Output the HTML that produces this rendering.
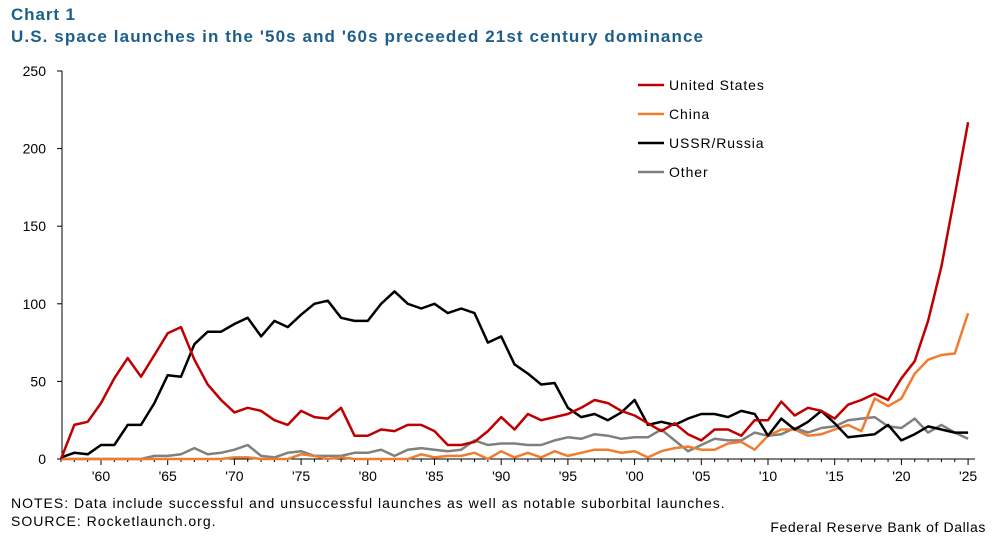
<!DOCTYPE html>
<html><head><meta charset="utf-8"><style>
body{margin:0;width:997px;height:541px;background:#fff;font-family:"Liberation Sans",sans-serif;position:relative;overflow:hidden}
.t1{position:absolute;left:11px;top:5px;font-size:17px;font-weight:bold;color:#1d5e8a;letter-spacing:0.9px}
.t2{position:absolute;left:11px;top:27px;font-size:17px;font-weight:bold;color:#1d5e8a;letter-spacing:1.1px}
.n{position:absolute;left:11px;font-size:14px;color:#000;letter-spacing:1px}
.f{position:absolute;right:11px;top:519px;font-size:14px;color:#000;letter-spacing:0.6px}
svg{position:absolute;left:0;top:0}
</style></head><body>
<div class="t1">Chart 1</div>
<div class="t2">U.S. space launches in the '50s and '60s preceeded 21st century dominance</div>
<div class="n" style="top:495px">NOTES: Data include successful and unsuccessful launches as well as notable suborbital launches.</div>
<div class="n" style="top:513px">SOURCE: Rocketlaunch.org.</div>
<div class="f">Federal Reserve Bank of Dallas</div>
<svg id="s" width="997" height="541" font-family="Liberation Sans" font-size="14"></svg>
<script>
const us=[0,22,24,36,52,65,53,67,81,85,64,48,38,30,33,31,25,22,31,27,26,33,15,15,19,18,22,22,18,9,9,11,18,27,19,29,25,27,29,33,38,36,31,28,23,18,23,16,12,19,19,15,25,25,37,28,33,31,26,35,38,42,38,52,63,89,124,170,217];
const ru=[1,4,3,9,9,22,22,36,54,53,74,82,82,87,91,79,89,85,93,100,102,91,89,89,100,108,100,97,100,94,97,94,75,79,61,55,48,49,33,27,29,25,30,38,22,24,22,26,29,29,27,31,29,15,26,19,24,31,23,14,15,16,22,12,16,21,19,17,17];
const cn=[0,0,0,0,0,0,0,0,0,0,0,0,0,1,1,0,0,0,3,2,0,1,0,0,0,0,0,3,1,2,2,4,0,5,1,4,1,5,2,4,6,6,4,5,1,5,7,8,6,6,10,11,6,15,19,19,15,16,19,22,18,39,34,39,55,64,67,68,94];
const ot=[0,0,0,0,0,0,0,2,2,3,7,3,4,6,9,2,1,4,5,2,2,2,4,4,6,2,6,7,6,5,6,12,9,10,10,9,9,12,14,13,16,15,13,14,14,19,12,5,9,13,12,12,17,15,16,20,17,20,21,25,26,27,21,20,26,17,22,17,13];
const X=y=>101+(y-1960)*13.34, Y=v=>459-v*1.552;
let h='';
h+=`<line x1="62" y1="71" x2="62" y2="459" stroke="#000"/><line x1="62" y1="459" x2="975" y2="459" stroke="#000"/>`;
for(let v=0;v<=250;v+=50){h+=`<line x1="57" x2="62" y1="${Y(v)}" y2="${Y(v)}" stroke="#000"/><text x="46" y="${Y(v)+5}" text-anchor="end">${v}</text>`}
for(let y=1957;y<=2025;y++){h+=`<line x1="${X(y)}" x2="${X(y)}" y1="459" y2="${y%5==0?465:462}" stroke="#000"/>`;
 if(y%5==0){let l="'"+String(y%100).padStart(2,'0');h+=`<text x="${X(y)}" y="481" text-anchor="middle">${l}</text>`}}
const line=(d,c)=>`<polyline fill="none" stroke="${c}" stroke-width="2.5" stroke-linejoin="round" points="${d.map((v,i)=>X(1957+i).toFixed(1)+','+Y(v).toFixed(1)).join(' ')}"/>`;
h+=line(ot,'#808080')+line(cn,'#f07c30')+line(ru,'#000')+line(us,'#c00000');
[['United States','#c00000'],['China','#f07c30'],['USSR/Russia','#000'],['Other','#808080']].forEach((e,i)=>{let y=85+i*29;h+=`<line x1="638" x2="664" y1="${y}" y2="${y}" stroke="${e[1]}" stroke-width="2.5"/><text x="669" y="${y+5}" letter-spacing="0.9">${e[0]}</text>`});
document.getElementById('s').innerHTML=h;
</script>
</body></html>
